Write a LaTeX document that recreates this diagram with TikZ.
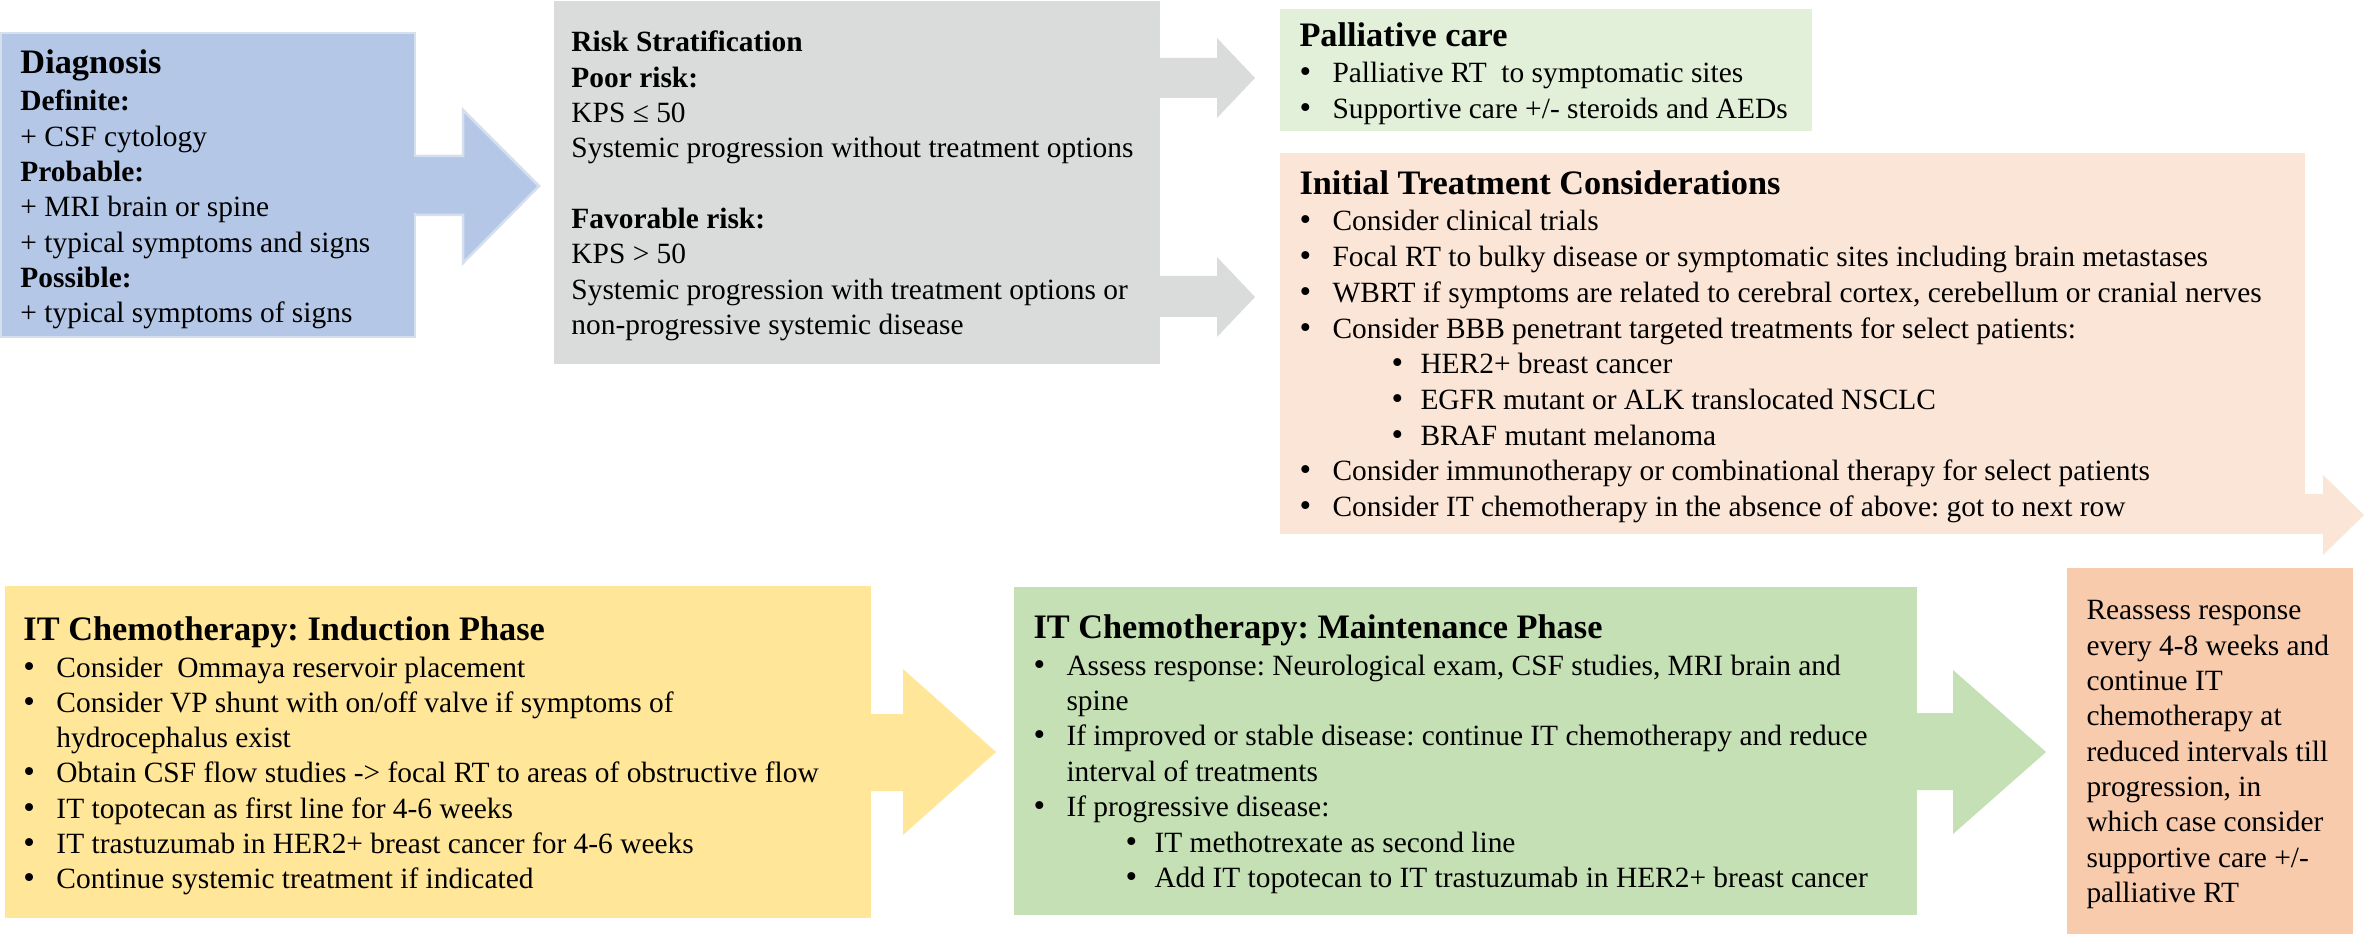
\documentclass[tikz,border=0pt]{standalone}
\usepackage{fontspec}
\setmainfont{Liberation Serif}
\frenchspacing
\newlength\upx
\setlength\upx{0.408pt}
\definecolor{cblue}{HTML}{B4C7E7}
\definecolor{cblueedge}{HTML}{D6DFEE}
\definecolor{cgrey}{HTML}{DADBDB}
\definecolor{cpall}{HTML}{E2F0D9}
\definecolor{cpeach}{HTML}{FBE5D6}
\definecolor{cyellow}{HTML}{FFE699}
\definecolor{cgreen}{HTML}{C5E0B4}
\definecolor{creass}{HTML}{F8CBAD}
\tikzset{
  box/.style={rectangle, inner sep=0pt, outer sep=0pt, anchor=north west},
  ttl/.style={anchor=base west, inner sep=0pt, font=\fontsize{14}{16}\selectfont\bfseries\frenchspacing},
  body/.style={anchor=base west, inner sep=0pt, font=\fontsize{12}{14.4}\selectfont\frenchspacing},
}
\newcommand\dotb{{\fontsize{13.5}{12}\selectfont\textbullet}}
\newcommand\bul{\makebox[33\upx][l]{\dotb}}
\newcommand\subbul{\hspace*{92\upx}\makebox[29\upx][l]{\dotb}}
\newcommand\cont{\hspace*{33\upx}}
\newcommand\lines[1]{\begin{tabular}[t]{@{}l@{}}#1\end{tabular}}
% block arrow: style, x start, x head base, x tip, shaft top, shaft bottom, head top, head bottom, tip y
\newcommand\barrow[9]{\path[#1] (#2,#5) -- (#3,#5) -- (#3,#7) -- (#4,#9) -- (#3,#8) -- (#3,#6) -- (#2,#6) -- cycle;}
\begin{document}
\begin{tikzpicture}[x=\upx, y=-\upx]
\fill[white] (0,0) rectangle (2367,934);
\useasboundingbox (0,0) rectangle (2367,934);
% arrows
\barrow{fill=cblue, draw=cblueedge, line width=2.5\upx}{410}{463}{539}{156}{215}{110}{263}{186}
\barrow{fill=cgrey}{1155}{1217}{1255}{58}{98}{38}{118}{78}
\barrow{fill=cgrey}{1155}{1217}{1255}{276}{317}{257}{337}{297}
\barrow{fill=cpeach}{2300}{2323}{2364}{494}{534}{475}{555}{515}
\barrow{fill=cyellow}{865}{903}{996}{714}{791}{669}{835}{752}
\barrow{fill=cgreen}{1910}{1953}{2046}{713}{790}{670}{834}{752}
% boxes
\node[box, fill=cblue, draw=cblueedge, line width=2.5\upx, minimum width=414\upx, minimum height=304\upx] (diag) at (1,33) {};
\fill[cblue] (414,157.5) rectangle (420,213.5);
\node[box, fill=cgrey, minimum width=606\upx, minimum height=363\upx] (risk) at (554,1) {};
\node[box, fill=cpall, minimum width=532\upx, minimum height=122\upx] (pall) at (1280,9) {};
\node[box, fill=cpeach, minimum width=1025\upx, minimum height=381\upx] (init) at (1280,153) {};
\node[box, fill=cyellow, minimum width=866\upx, minimum height=332\upx] (induc) at (5,586) {};
\node[box, fill=cgreen, minimum width=903\upx, minimum height=328\upx] (maint) at (1014,587) {};
\node[box, fill=creass, minimum width=286\upx, minimum height=366\upx] (reass) at (2067,568) {};
% texts
\node[ttl] (diagt) at (20,74) {Diagnosis};
\node[body] (diagb) at (20,111) {\lines{\textbf{Definite:}\\+ CSF cytology\\\textbf{Probable:}\\+ MRI brain or spine\\+ typical symptoms and signs\\\textbf{Possible:}\\+ typical symptoms of signs}};
\node[body] (riskb) at (571,52) {\lines{\textbf{Risk Stratification}\\\textbf{Poor risk:}\\KPS ≤ 50\\Systemic progression without treatment options\\\mbox{}\\\textbf{Favorable risk:}\\KPS > 50\\Systemic progression with treatment options or\\non-progressive systemic disease}};
\node[ttl] (pallt) at (1299,47) {Palliative care};
\node[body] (pallb) at (1299,83) {\lines{\bul Palliative RT\ \ to symptomatic sites\\\bul Supportive care +/- steroids and AEDs}};
\node[ttl] (initt) at (1299,195) {Initial Treatment Considerations};
\node[body, font=\fontsize{12}{14.57}\selectfont\frenchspacing] (initb) at (1299,231) {\lines{\bul Consider clinical trials\\
\bul Focal RT to bulky disease or symptomatic sites including brain metastases\\
\bul WBRT if symptoms are related to cerebral cortex, cerebellum or cranial nerves\\
\bul Consider BBB penetrant targeted treatments for select patients:\\
\subbul HER2+ breast cancer\\
\subbul EGFR mutant or ALK translocated NSCLC\\
\subbul BRAF mutant melanoma\\
\bul Consider immunotherapy or combinational therapy for select patients\\
\bul Consider IT chemotherapy in the absence of above: got to next row}};
\node[ttl] (induct) at (23,640) {IT Chemotherapy: Induction Phase};
\node[body] (inducb) at (23,677) {\lines{\bul Consider\ \ Ommaya reservoir placement\\
\bul Consider VP shunt with on/off valve if symptoms of\\
\cont hydrocephalus exist\\
\bul Obtain CSF flow studies -> focal RT to areas of obstructive flow\\
\bul IT topotecan as first line for 4-6 weeks\\
\bul IT trastuzumab in HER2+ breast cancer for 4-6 weeks\\
\bul Continue systemic treatment if indicated}};
\node[ttl] (maintt) at (1033,638) {IT Chemotherapy: Maintenance Phase};
\node[body, font=\fontsize{12}{14.48}\selectfont\frenchspacing] (maintb) at (1033,675) {\lines{\bul Assess response: Neurological exam, CSF studies, MRI brain and\\
\cont spine\\
\bul If improved or stable disease: continue IT chemotherapy and reduce\\
\cont interval of treatments\\
\bul If progressive disease:\\
\subbul IT methotrexate as second line\\
\subbul Add IT topotecan to IT trastuzumab in HER2+ breast cancer}};
\node[body] (reassb) at (2086,620) {\lines{Reassess response\\every 4-8 weeks and\\continue IT\\chemotherapy at\\reduced intervals till\\progression, in\\which case consider\\supportive care +/-\\palliative RT}};
\end{tikzpicture}
\end{document}
